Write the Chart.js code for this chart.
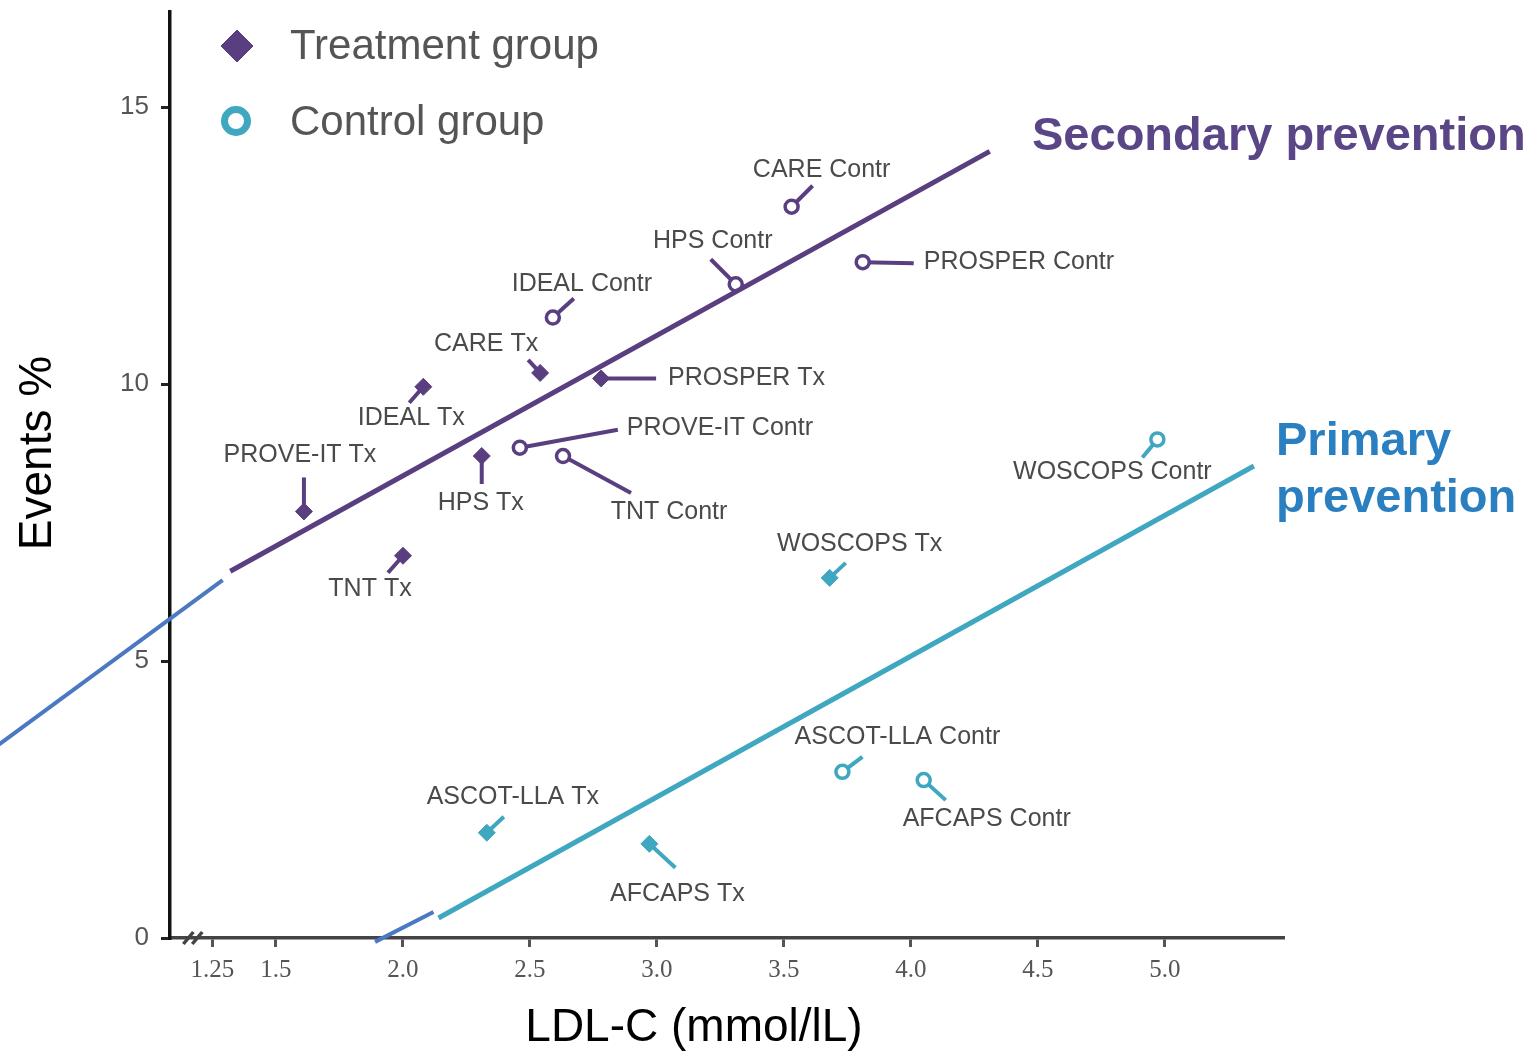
<!DOCTYPE html>
<html>
<head>
<meta charset="utf-8">
<script src="https://cdn.jsdelivr.net/npm/chart.js@4.4.1/dist/chart.umd.min.js"></script>
<style>
	html, body { margin: 0; padding: 0; background: #fff; }
	#wrap { width: 1534px; height: 1053px; position: relative; }
</style>
</head>
<body>
<div id="wrap"><canvas id="myChart"></canvas></div>
<script>
// trials, grouped by prevention type
var trials     = ['CARE', 'HPS', 'PROSPER', 'IDEAL', 'PROVE-IT', 'TNT', 'WOSCOPS', 'ASCOT-LLA', 'AFCAPS'];
var prevention = ['secondary', 'secondary', 'secondary', 'secondary', 'secondary', 'secondary', 'primary', 'primary', 'primary'];

// LDL-C (mmol/L) and events (%)
var txLDL      = [2.54, 2.31, 2.78, 2.08, 1.61, 2.00, 3.68, 2.33, 2.97];
var txEvents   = [10.2, 8.7, 10.1, 9.95, 7.7, 6.9, 6.5, 1.9, 1.7];
var ctrlLDL    = [3.53, 3.31, 3.81, 2.59, 2.46, 2.63, 4.97, 3.73, 4.05];
var ctrlEvents = [13.2, 11.8, 12.2, 11.2, 8.85, 8.7, 9.0, 3.0, 2.85];

// regression lines and their extrapolations
var secondaryFitLDL    = [1.32, 4.31];
var secondaryFitEvents = [6.62, 14.2];
var secondaryExtLDL    = [0.40, 1.29];
var secondaryExtEvents = [3.46, 6.46];
var primaryFitLDL      = [2.14, 5.35];
var primaryFitEvents   = [0.36, 8.52];
var primaryExtLDL      = [1.89, 2.12];
var primaryExtEvents   = [-0.07, 0.47];

// axes
var xTicks      = [1.25, 1.5, 2.0, 2.5, 3.0, 3.5, 4.0, 4.5, 5.0];
var xTickLabels = ['1.25', '1.5', '2.0', '2.5', '3.0', '3.5', '4.0', '4.5', '5.0'];
var yTicks      = [0, 5, 10, 15];
var yTickLabels = ['0', '5', '10', '15'];
var xTitle = 'LDL-C (mmol/lL)';
var yTitle = 'Events %';

var PURPLE = '#5a3f80';
var CYAN = '#3fa7bf';
var BLUE = '#4a78c2';
var TEXT = '#4a4a4a';

// callout placement (pixels from the marker): leader end, label anchor, alignment
var callouts = {
	'PROVE-IT Tx':    { lx: 0,   ly: -34, tx: -4,  ty: -56, align: 'center' },
	'IDEAL Tx':       { lx: -14, ly: 16,  tx: -12, ty: 31,  align: 'center' },
	'CARE Tx':        { lx: -12, ly: -13, tx: -54, ty: -29, align: 'center' },
	'PROSPER Tx':     { lx: 55,  ly: 0,   tx: 67,  ty: 0,   align: 'left' },
	'HPS Tx':         { lx: 0,   ly: 28,  tx: -1,  ty: 47,  align: 'center' },
	'TNT Tx':         { lx: -15, ly: 17,  tx: -33, ty: 33,  align: 'center' },
	'WOSCOPS Tx':     { lx: 16,  ly: -15, tx: 30,  ty: -34, align: 'center' },
	'ASCOT-LLA Tx':   { lx: 17,  ly: -16, tx: 26,  ty: -36, align: 'center' },
	'AFCAPS Tx':      { lx: 26,  ly: 24,  tx: 28,  ty: 50,  align: 'center' },
	'CARE Contr':     { lx: 21,  ly: -21, tx: 30,  ty: -37, align: 'center' },
	'HPS Contr':      { lx: -25, ly: -25, tx: -23, ty: -43, align: 'center' },
	'PROSPER Contr':  { lx: 51,  ly: 1,   tx: 61,  ty: 0,   align: 'left' },
	'IDEAL Contr':    { lx: 21,  ly: -19, tx: 29,  ty: -33, align: 'center' },
	'PROVE-IT Contr': { lx: 98,  ly: -18, tx: 107, ty: -20, align: 'left' },
	'TNT Contr':      { lx: 68,  ly: 37,  tx: 106, ty: 56,  align: 'center' },
	'WOSCOPS Contr':  { lx: -15, ly: 18,  tx: -45, ty: 33,  align: 'center' },
	'ASCOT-LLA Contr':{ lx: 20,  ly: -15, tx: 55,  ty: -35, align: 'center' },
	'AFCAPS Contr':   { lx: 22,  ly: 20,  tx: 63,  ty: 39,  align: 'center' }
};

function pairs(xs, ys) {
	var out = [];
	for (var i = 0; i < xs.length; i++) {
		out.push({ x: xs[i], y: ys[i] });
	}
	return out;
}

function groupPoints(xs, ys, type, suffix) {
	var out = [];
	for (var i = 0; i < trials.length; i++) {
		if (prevention[i] === type) {
			out.push({ x: xs[i], y: ys[i], label: trials[i] + suffix });
		}
	}
	return out;
}

function fitLine(xs, ys, color, width) {
	return {
		type: 'line',
		data: pairs(xs, ys),
		borderColor: color,
		borderWidth: width,
		pointRadius: 0,
		fill: false,
		clip: false,
		callout: false
	};
}

function markers(points, color, isControl) {
	return {
		type: 'scatter',
		data: points,
		pointStyle: isControl ? 'circle' : 'rectRot',
		pointRadius: isControl ? 6.5 : 8.5,
		pointHoverRadius: isControl ? 6.5 : 8.5,
		pointBackgroundColor: isControl ? '#fff' : color,
		pointBorderColor: color,
		pointBorderWidth: isControl ? 3.5 : 1,
		borderColor: color,
		callout: true
	};
}

// leader lines under the markers, labels on top
var calloutPlugin = {
	id: 'callouts',
	beforeDatasetsDraw: function(chart) {
		var ctx = chart.ctx;
		ctx.save();
		chart.data.datasets.forEach(function(ds, di) {
			if (!ds.callout) return;
			var meta = chart.getDatasetMeta(di);
			meta.data.forEach(function(el, i) {
				var c = callouts[ds.data[i].label];
				if (!c) return;
				ctx.beginPath();
				ctx.strokeStyle = ds.borderColor;
				ctx.lineWidth = 4;
				ctx.lineCap = 'butt';
				ctx.moveTo(el.x, el.y);
				ctx.lineTo(el.x + c.lx, el.y + c.ly);
				ctx.stroke();
			});
		});
		ctx.restore();
	},
	afterDatasetsDraw: function(chart) {
		var ctx = chart.ctx;
		ctx.save();
		ctx.font = '25px "Liberation Sans", Arial, sans-serif';
		ctx.fillStyle = TEXT;
		ctx.textBaseline = 'middle';
		chart.data.datasets.forEach(function(ds, di) {
			if (!ds.callout) return;
			var meta = chart.getDatasetMeta(di);
			meta.data.forEach(function(el, i) {
				var c = callouts[ds.data[i].label];
				if (!c) return;
				ctx.textAlign = c.align;
				ctx.fillText(ds.data[i].label, el.x + c.tx, el.y + c.ty);
			});
		});
		ctx.restore();
	}
};

// legend, axis titles, group captions and the axis break
var decorPlugin = {
	id: 'decor',
	afterDraw: function(chart) {
		var ctx = chart.ctx;
		var area = chart.chartArea;
		var xs = chart.scales.x;
		ctx.save();

		// legend
		ctx.fillStyle = PURPLE;
		ctx.strokeStyle = PURPLE;
		ctx.lineWidth = 1;
		Chart.helpers.drawPoint(ctx, { pointStyle: 'rectRot', radius: 16, borderWidth: 1 }, area.left + 67, area.top + 34);
		ctx.beginPath();
		ctx.strokeStyle = CYAN;
		ctx.lineWidth = 7;
		ctx.arc(area.left + 66, area.top + 109, 11.5, 0, Math.PI * 2);
		ctx.stroke();
		ctx.fillStyle = '#555';
		ctx.font = '42px "Liberation Sans", Arial, sans-serif';
		ctx.textAlign = 'left';
		ctx.textBaseline = 'middle';
		ctx.fillText('Treatment group', area.left + 120, area.top + 35);
		ctx.fillText('Control group', area.left + 120, area.top + 111);

		// axis titles
		ctx.fillStyle = '#000';
		ctx.font = '46px "Liberation Sans", Arial, sans-serif';
		ctx.textAlign = 'center';
		ctx.fillText(xTitle, 694, 1028);
		ctx.save();
		ctx.translate(38, 453);
		ctx.rotate(-Math.PI / 2);
		ctx.fillText(yTitle, 0, 0);
		ctx.restore();

		// group captions
		ctx.textAlign = 'left';
		ctx.font = 'bold 47px "Liberation Sans", Arial, sans-serif';
		ctx.fillStyle = '#5a4686';
		ctx.fillText('Secondary prevention', area.right - 251, area.top + 125);
		ctx.fillStyle = '#2a7fc1';
		ctx.fillText('Primary', area.right - 7, area.top + 430);
		ctx.fillText('prevention', area.right - 7, area.top + 487);

		// axis break marks
		ctx.strokeStyle = '#444';
		ctx.lineWidth = 3.5;
		[1.155, 1.19].forEach(function(v) {
			var px = xs.getPixelForValue(v);
			ctx.beginPath();
			ctx.moveTo(px - 5, area.bottom + 6);
			ctx.lineTo(px + 5, area.bottom - 6);
			ctx.stroke();
		});
		ctx.restore();
	}
};

var ctx = document.getElementById('myChart').getContext('2d');
var myChart = new Chart(ctx, {
	type: 'scatter',
	data: {
		datasets: [
			fitLine(secondaryFitLDL, secondaryFitEvents, PURPLE, 5),
			fitLine(secondaryExtLDL, secondaryExtEvents, BLUE, 4),
			fitLine(primaryFitLDL, primaryFitEvents, CYAN, 5),
			fitLine(primaryExtLDL, primaryExtEvents, BLUE, 4),
			markers(groupPoints(txLDL, txEvents, 'secondary', ' Tx'), PURPLE, false),
			markers(groupPoints(txLDL, txEvents, 'primary', ' Tx'), CYAN, false),
			markers(groupPoints(ctrlLDL, ctrlEvents, 'secondary', ' Contr'), PURPLE, true),
			markers(groupPoints(ctrlLDL, ctrlEvents, 'primary', ' Contr'), CYAN, true)
		]
	},
	options: {
		responsive: true,
		maintainAspectRatio: false,
		animation: false,
		layout: { padding: { top: 12, right: 251, left: 0, bottom: 0 } },
		plugins: {
			legend: { display: false },
			tooltip: { enabled: false }
		},
		scales: {
			x: {
				type: 'linear',
				min: 1.0827,
				max: 5.4646,
				afterBuildTicks: function(scale) {
					scale.ticks = xTicks.map(function(v) { return { value: v }; });
				},
				afterFit: function(scale) {
					scale.height = 115;
					scale.paddingLeft = 0;
					scale.paddingRight = 0;
				},
				ticks: {
					autoSkip: false,
					maxRotation: 0,
					padding: 8,
					color: '#555',
					font: { family: '"Liberation Serif", "DejaVu Serif", serif', size: 25 },
					callback: function(value, index) { return xTickLabels[index]; }
				},
				grid: { drawOnChartArea: false, drawTicks: true, tickLength: 9, color: '#555', lineWidth: 3 },
				border: { display: true, color: '#444', width: 3.5 }
			},
			y: {
				type: 'linear',
				min: 0,
				max: 16.715,
				afterBuildTicks: function(scale) {
					scale.ticks = yTicks.map(function(v) { return { value: v }; });
				},
				afterFit: function(scale) {
					scale.width = 170;
					scale.paddingTop = 0;
					scale.paddingBottom = 0;
				},
				ticks: {
					padding: 12,
					color: '#555',
					font: { family: '"Liberation Sans", Arial, sans-serif', size: 26 },
					callback: function(value, index) { return yTickLabels[index]; }
				},
				grid: { drawOnChartArea: false, drawTicks: true, tickLength: 9, color: '#222', lineWidth: 3 },
				border: { display: true, color: '#111', width: 3.5 }
			}
		}
	},
	plugins: [calloutPlugin, decorPlugin]
});
</script>
</body>
</html>
